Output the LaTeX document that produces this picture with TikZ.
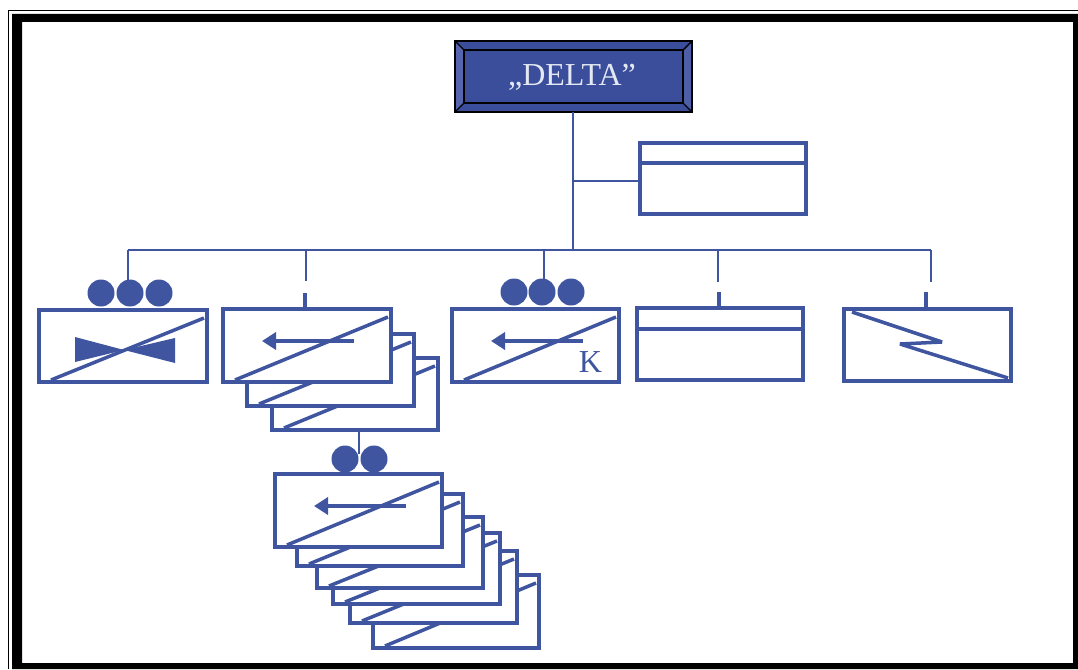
\documentclass[tikz,border=0pt]{standalone}
\usepackage{fontspec}
\setmainfont{Liberation Serif}
\usetikzlibrary{calc,arrows.meta}
\definecolor{ink}{HTML}{3F55A0}
\definecolor{deltafill}{HTML}{3A4E9C}
\definecolor{deltaside}{HTML}{5566AE}
\definecolor{deltatext}{HTML}{E4E8F2}
\tikzset{
  uframe/.style={draw=ink,line width=3.5pt,fill=white,inner sep=0pt,outer sep=0pt},
  wire/.style={draw=ink,line width=1.8pt},
  stub/.style={draw=ink,line width=3.5pt},
  stroke/.style={draw=ink,line width=3.5pt},
  dot/.style={circle,fill=ink,draw=none,minimum size=27pt,inner sep=0pt,outer sep=0pt},
  leftarrow/.style={draw=ink,line width=3.5pt,-{Triangle[length=14pt,width=17pt]}},
}
% name, left, top, right, bottom
\newcommand{\ufr}[5]{%
  \pgfmathsetmacro{\uw}{#4-#2}\pgfmathsetmacro{\uh}{#5-#3}%
  \pgfmathsetmacro{\ux}{(#4+#2)/2}\pgfmathsetmacro{\uy}{(#5+#3)/2}%
  \node[uframe,minimum width=\uw pt,minimum height=\uh pt] (#1) at (\ux,\uy) {};}
\newcommand{\udiag}[1]{\draw[stroke] ($(#1.south west)+(12,-2)$) -- ($(#1.north east)+(-3,8)$);}
\newcommand{\ustack}[5]{\ufr{#1}{#2}{#3}{#4}{#5}\udiag{#1}}
\newcommand{\uarrow}[1]{\draw[leftarrow] ($(#1.north west)+(131,32)$) -- ($(#1.north west)+(39,32)$);}
\begin{document}
\begin{tikzpicture}[x=1pt,y=-1pt]
\useasboundingbox (0,0) rectangle (1078,669);
\fill[white] (0,0) rectangle (1078,669);
% outer frame
\draw[black,line width=1.2pt] (8.5,669) -- (8.5,10.5) -- (1078,10.5);
\fill[black,even odd rule] (12,14) rectangle (1078,669) (22,22) rectangle (1073,663);
% title
\node[draw=black,line width=2.6pt,fill=deltafill,minimum width=237pt,minimum height=71pt,inner sep=0pt,outer sep=0pt] (delta) at (573.5,76.5) {};
\fill[deltaside] (456,42) -- (464,50) -- (464,103) -- (456,111) -- cycle;
\fill[deltaside!70!deltafill] (691,42) -- (683,50) -- (683,103) -- (691,111) -- cycle;
\draw[black,line width=2pt] (464,50) rectangle (683,103);
\draw[black,line width=1.4pt] (455,41) -- (464,50) (692,41) -- (683,50) (455,112) -- (464,103) (692,112) -- (683,103);
\node[text=deltatext,inner sep=0pt,font=\fontsize{32}{32}\selectfont] (deltalabel) at (572,77) {„DELTA”};
% side box
\ufr{side}{640}{143}{806}{214}
\draw[stroke] (side.west |- 0,163) -- (side.east |- 0,163);
% trunk and bus
\coordinate (busT) at (573,250);
\coordinate (sideIn) at (640,181);
\coordinate (busL) at (128,250);
\coordinate (busR) at (931,250);
\draw[wire] (delta.south -| busT) -- (busT);
\draw[wire] (busT |- sideIn) -- (sideIn);
\draw[wire] (busL) -- (busR);
% box 1
\ufr{b1}{39}{310}{207}{382}
\udiag{b1}
\fill[ink] (75,337) -- (75,362) -- (124,350) -- (175,338) -- (175,363) -- (124,350) -- cycle;
\node[dot] (c11) at (101,293) {};
\node[dot] (c12) at (130,293) {};
\node[dot] (c13) at (159,293) {};
\coordinate (d1) at (128,280);
\draw[wire] (busL) -- (d1);
% box 2 stack
\ustack{b2c}{272}{358}{438}{430}
\ustack{b2b}{247}{334}{414}{406}
\ustack{b2}{223}{309}{391}{382}
\uarrow{b2}
\coordinate (d2a) at (306,250);
\coordinate (d2b) at (306,281);
\coordinate (d2c) at (305,293);
\coordinate (d2d) at (305,309);
\draw[wire] (d2a) -- (d2b);
\draw[stub] (d2c) -- (d2d);
% box 3
\ufr{b3}{452}{309}{619}{382}
\udiag{b3}
\uarrow{b3}
\node[dot] (c31) at (514,292) {};
\node[dot] (c32) at (542,292) {};
\node[dot] (c33) at (571,292) {};
\coordinate (d3a) at (544,250);
\coordinate (d3b) at (544,281);
\draw[wire] (d3a) -- (d3b);
\node[text=ink,inner sep=0pt,font=\fontsize{32}{32}\selectfont] (k) at (590.5,362.5) {K};
% box 4
\ufr{b4}{637}{308}{803}{380}
\draw[stroke] (b4.west |- 0,329) -- (b4.east |- 0,329);
\coordinate (d4a) at (718,250);
\coordinate (d4b) at (718,282);
\coordinate (d4c) at (719,292);
\coordinate (d4d) at (719,308);
\draw[wire] (d4a) -- (d4b);
\draw[stub] (d4c) -- (d4d);
% box 5
\ufr{b5}{844}{309}{1011}{381}
\draw[stroke,miter limit=2] (852,312) -- (942,342) -- (900,344) -- (1008,378);
\coordinate (d5b) at (931,282);
\coordinate (d5c) at (926,292);
\coordinate (d5d) at (926,309);
\draw[wire] (busR) -- (d5b);
\draw[stub] (d5c) -- (d5d);
% lower stack
\ustack{s6}{373}{575}{539}{648}
\ustack{s5}{350}{551}{517}{623}
\ustack{s4}{333}{533}{500}{604}
\ustack{s3}{317}{517}{483}{588}
\ustack{s2}{297}{494}{463}{566}
\ustack{s1}{275}{474}{442}{547}
\uarrow{s1}
\node[dot] (c41) at (345,459) {};
\node[dot] (c42) at (374,459) {};
\coordinate (d6) at (359,454);
\draw[wire] (d6 |- b2c.south) -- (d6);
\end{tikzpicture}
\end{document}
